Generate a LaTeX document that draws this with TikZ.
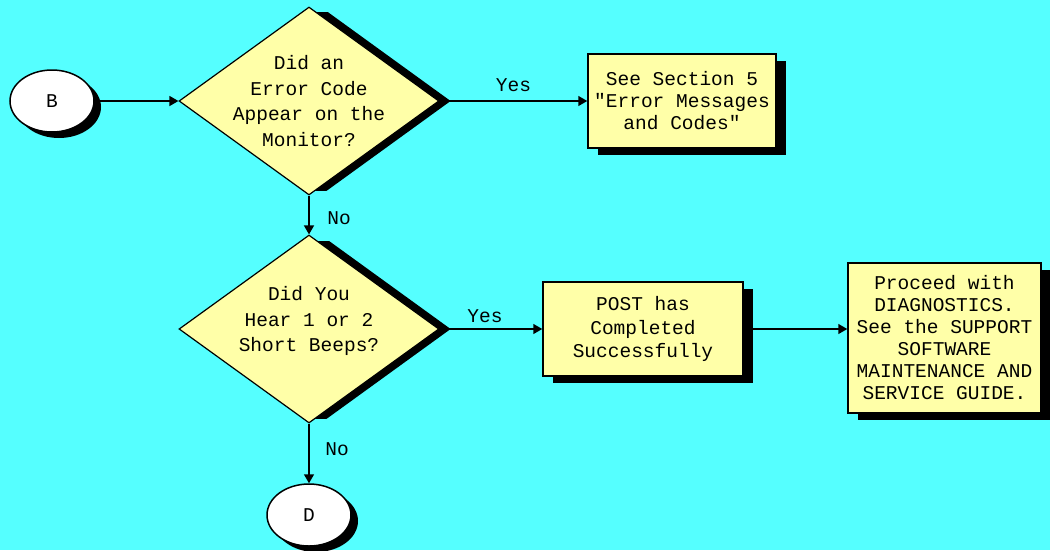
\documentclass[tikz,border=0pt]{standalone}
\usepackage{fontspec}
\setmonofont{Liberation Mono}
\usetikzlibrary{shapes.geometric,shadows,arrows.meta}
\definecolor{bgcyan}{HTML}{55FFFF}
\definecolor{boxyellow}{HTML}{FFFFA8}
\pgfdeclarelayer{shadowlayer}
\pgfsetlayers{shadowlayer,main}
\begin{document}
\begin{tikzpicture}[x=1pt,y=-1pt,
  font=\ttfamily\fontsize{19.5}{22}\selectfont,
  procbox/.style={draw, line width=1.5pt, fill=boxyellow, rectangle, inner sep=2pt, align=center,
    drop shadow={shadow xshift=10pt, shadow yshift=-7pt, fill=black, opacity=1}},
  decision/.style={diamond, draw, line width=1.2pt, fill=boxyellow, inner sep=0pt,
    minimum width=260pt, minimum height=188pt},
  dtext/.style={align=center, inner sep=0pt, font=\ttfamily\fontsize{19.5}{25.5}\selectfont},
  terminal/.style={ellipse, draw, line width=1.5pt, fill=white, minimum width=84pt, minimum height=62pt, inner sep=0pt,
    drop shadow={shadow xshift=7pt, shadow yshift=-6pt, fill=black, opacity=1}},
  arr/.style={line width=1.5pt, -{Triangle[length=9pt,width=10pt]}},
  lbl/.style={inner sep=0pt}]
\begin{pgfonlayer}{shadowlayer}
  \fill[bgcyan] (0,0) rectangle (1050,550);
\end{pgfonlayer}
\useasboundingbox (0,0) rectangle (1050,550);

% terminals
\node[terminal] (b) at (52,101) {B};
\node[terminal] (d) at (309,515) {D};

% decisions
\node[decision] (d1) at (309,101) {};
\node[dtext] (d1t) at (309,101) {Did an\\Error Code\\Appear on the\\Monitor?};
\node[decision] (d2) at (309,329) {};
\node[dtext] (d2t) at (309,321) {Did You\\Hear 1 or 2\\Short Beeps?};

% diamond shadows
\begin{pgfonlayer}{shadowlayer}
  \begin{scope}
    \clip (0,12) rectangle (1050,190);
    \fill[black] ([xshift=11pt]d1.north) -- ([xshift=11pt]d1.east) -- ([xshift=11pt]d1.south) -- ([xshift=11pt]d1.west) -- cycle;
  \end{scope}
  \begin{scope}
    \clip (0,241) rectangle (1050,418);
    \fill[black] ([xshift=11pt]d2.north) -- ([xshift=11pt]d2.east) -- ([xshift=11pt]d2.south) -- ([xshift=11pt]d2.west) -- cycle;
  \end{scope}
\end{pgfonlayer}

% process boxes
\node[procbox, minimum width=188pt, minimum height=94pt] (s5) at (682,101)
  {See Section 5\\"Error Messages\\and Codes"};
\node[procbox, minimum width=200pt, minimum height=94pt, font=\ttfamily\fontsize{19.5}{23.5}\selectfont] (post) at (643,329)
  {POST has\\Completed\\Successfully};
\node[procbox, minimum width=193pt, minimum height=150pt] (diag) at (944.5,338)
  {Proceed with\\DIAGNOSTICS.\\See the SUPPORT\\SOFTWARE\\MAINTENANCE AND\\SERVICE GUIDE.};

% connectors
\draw[arr] (b.east) -- (b.east -| d1.west);
\draw[arr] (d1.east) -- node[lbl, yshift=16pt] (yes1) {Yes} (d1.east -| s5.west);
\draw[arr] (d1.south) -- node[lbl, xshift=30pt, yshift=-3pt] (no1) {No} (d2.north);
\draw[arr] (d2.east) -- node[lbl, xshift=-6pt, yshift=13pt] (yes2) {Yes} (d2.east -| post.west);
\draw[arr] (post.east) -- (post.east -| diag.west);
\draw[arr] (d2.south) -- node[lbl, xshift=28pt, yshift=4pt] (no2) {No} (d.north);
\end{tikzpicture}
\end{document}
